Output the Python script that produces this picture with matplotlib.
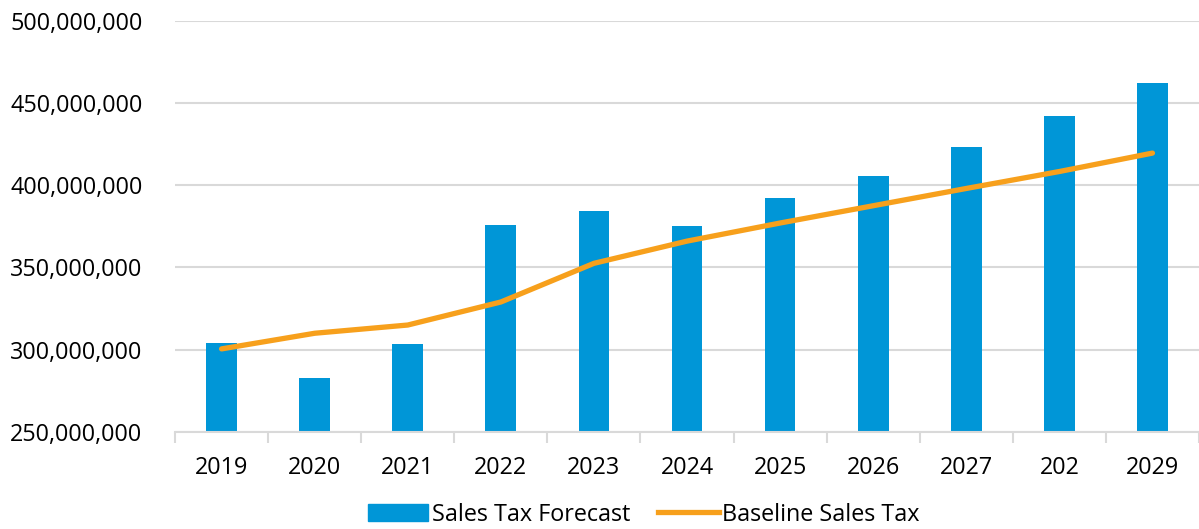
import matplotlib.pyplot as plt
import matplotlib
from matplotlib.ticker import FuncFormatter, MultipleLocator
from matplotlib.lines import Line2D
from matplotlib.patches import Patch
import numpy as np

matplotlib.rcParams['font.family'] = ['Open Sans', 'DejaVu Sans']

years = ['2019', '2020', '2021', '2022', '2023', '2024', '2025', '2026', '2027', '202', '2029']
forecast = [304e6, 283e6, 303.5e6, 375.5e6, 384.5e6, 375.3e6, 392.5e6, 405.3e6, 423.5e6, 442.2e6, 462.2e6]
baseline = [300.5e6, 310e6, 315e6, 329e6, 352.5e6, 366e6, 377e6, 387.5e6, 398e6, 408.3e6, 419.5e6]

blue = '#0096D7'
orange = '#F7A01C'
grid = '#D9D9D9'

fig = plt.figure(figsize=(11.99, 5.29), dpi=100)
ax = fig.add_axes([0.146, 0.1834, 0.854, 0.7776])

x = np.arange(len(years))
ax.bar(x, forecast, width=0.33, color=blue, zorder=2)
ax.plot(x, baseline, color=orange, linewidth=3.8, solid_capstyle='round', zorder=3)

ax.set_ylim(250e6, 500e6)
ax.set_xlim(-0.5, len(years) - 0.5)
ax.yaxis.set_major_locator(MultipleLocator(50e6))
ax.yaxis.set_major_formatter(FuncFormatter(lambda v, p: f'{int(v):,}'))
ax.grid(axis='y', color=grid, linewidth=1.5, zorder=0)
ax.set_axisbelow(True)

ax.set_xticks(x)
ax.set_xticklabels(years)
ax.set_xticks(np.arange(-0.5, len(years)), minor=True)
ax.tick_params(axis='x', which='major', length=0, pad=17, labelsize=16.8)
ax.tick_params(axis='x', which='minor', length=8, color=grid, width=1.5)
ax.tick_params(axis='y', length=0, pad=23.5, labelsize=16.8)

for s in ['top', 'right', 'left']:
    ax.spines[s].set_visible(False)
ax.spines['bottom'].set_color(grid)
ax.spines['bottom'].set_linewidth(1.5)

handles = [Patch(color=blue, label='Sales Tax Forecast'),
           Line2D([0], [0], color=orange, linewidth=3.8, label='Baseline Sales Tax')]
fig.legend(handles=handles, loc='lower center', bbox_to_anchor=(0.537, -0.035), ncol=2,
           frameon=False, fontsize=16.8, handlelength=2.6, handletextpad=0.15,
           columnspacing=1.2)

plt.savefig('out.png', dpi=100)
